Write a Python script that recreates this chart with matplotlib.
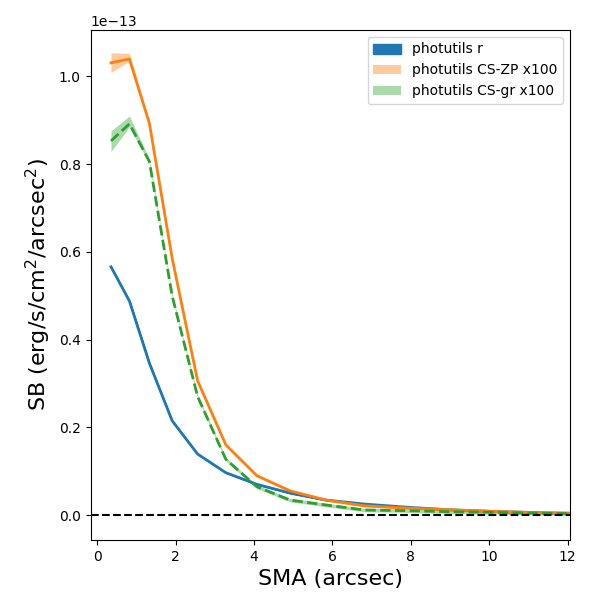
import matplotlib
matplotlib.use("Agg")
import matplotlib.pyplot as plt
import numpy as np

scale = 1e-13
sma = [0.35, 0.82, 1.33, 1.91, 2.56, 3.28, 4.07, 4.92, 5.84, 6.81, 7.86, 8.97, 10.15, 11.40, 12.70]

sb_r = [0.566, 0.488, 0.346, 0.215, 0.139, 0.0965, 0.070, 0.050, 0.034, 0.025, 0.018, 0.012, 0.008, 0.005, 0.003]

sb_zp = [1.031, 1.040, 0.893, 0.586, 0.306, 0.160, 0.0897, 0.0550, 0.034, 0.021, 0.016, 0.012, 0.008, 0.005, 0.003]
zp_lo = [1.009, 1.035, 0.889, 0.583, 0.303, 0.157, 0.087, 0.0525, 0.0315, 0.0185, 0.0135, 0.0095, 0.0055, 0.0025, 0.0005]
zp_hi = [1.054, 1.053, 0.897, 0.589, 0.309, 0.163, 0.0924, 0.0575, 0.0365, 0.0235, 0.0185, 0.0145, 0.0105, 0.0075, 0.0055]

sb_gr = [0.853, 0.892, 0.806, 0.500, 0.270, 0.127, 0.0645, 0.034, 0.0228, 0.0114, 0.010, 0.0076, 0.006, 0.004, 0.002]
gr_lo = [0.829, 0.885, 0.800, 0.496, 0.266, 0.123, 0.0605, 0.030, 0.0188, 0.0074, 0.006, 0.0036, 0.002, 0.000, -0.002]
gr_hi = [0.876, 0.910, 0.812, 0.504, 0.274, 0.131, 0.0685, 0.038, 0.0268, 0.0154, 0.014, 0.0116, 0.010, 0.008, 0.006]

x = np.array(sma)
s = lambda a: np.array(a) * scale

fig = plt.figure(figsize=(6, 6), dpi=100)
ax = fig.add_axes([0.151, 0.10, 0.799, 0.85])

ax.fill_between(x, s(sb_r), s(sb_r), color='C0', alpha=1.0, label='photutils r')
ax.plot(x, s(sb_r), color='C0', lw=2)

ax.fill_between(x, s(zp_lo), s(zp_hi), color='C1', alpha=0.4, lw=0, label='photutils CS-ZP x100')
ax.plot(x, s(sb_zp), color='C1', lw=2)

ax.fill_between(x, s(gr_lo), s(gr_hi), color='C2', alpha=0.4, lw=0, label='photutils CS-gr x100')
ax.plot(x, s(sb_gr), color='C2', lw=2, ls='--')

ax.axhline(0, color='k', ls='--', lw=1.5)

ax.set_xlim(-0.17, 12.06)
ax.set_ylim(-0.057 * scale, 1.106 * scale)
ax.set_xlabel('SMA (arcsec)', fontsize=16)
ax.set_ylabel('SB (erg/s/cm$^2$/arcsec$^2$)', fontsize=16)
ax.legend(loc='upper right')

fig.savefig('out.png', dpi=100)
